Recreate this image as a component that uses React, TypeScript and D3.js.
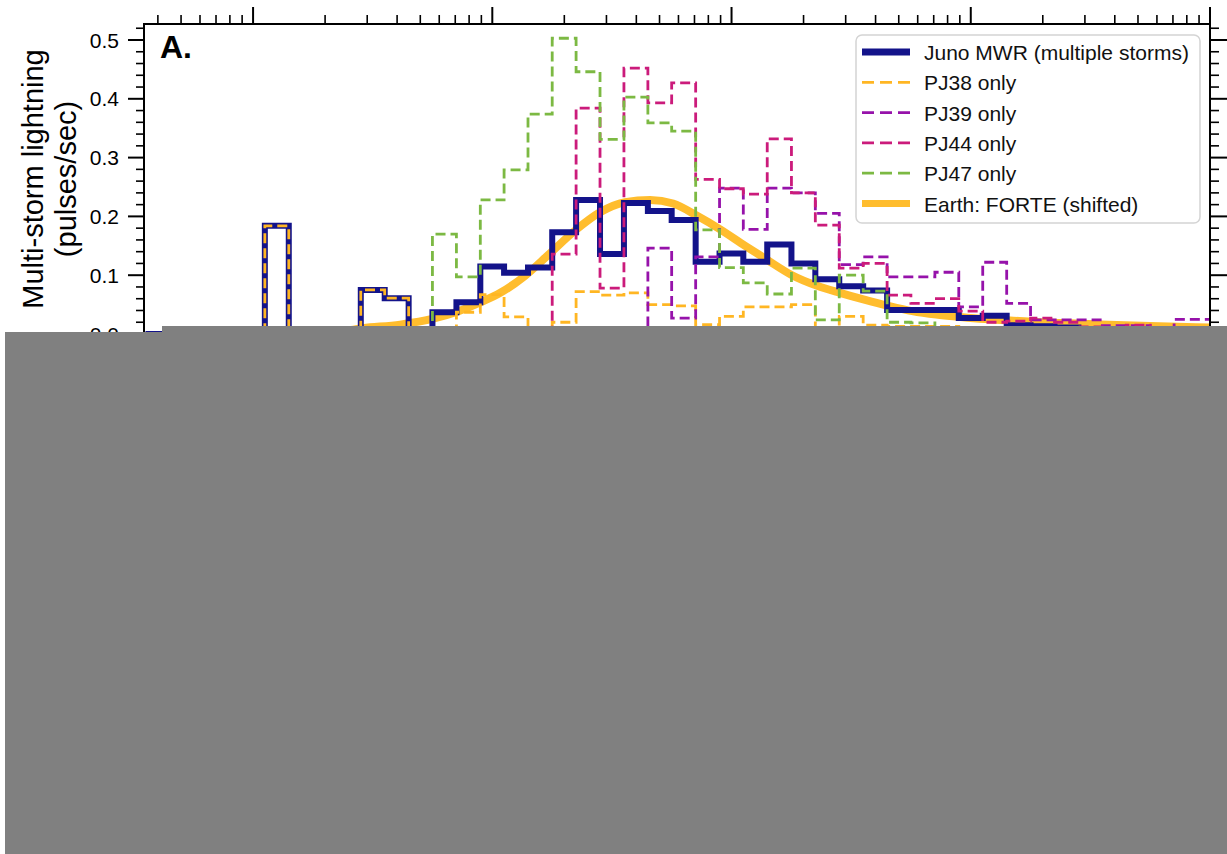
import * as d3 from "d3";

// histogram bin edges (log spaced, 10 per decade)
const binEdges = [
  0.355, 0.447, 0.562, 0.708, 0.891, 1.12, 1.41, 1.78, 2.24, 2.82, 3.55, 4.47, 5.62, 7.08, 8.91,
  11.2, 14.1, 17.8, 22.4, 28.2, 35.5, 44.7, 56.2, 70.8, 89.1, 112, 141, 178, 224, 282, 355, 447,
  562, 708, 891, 1122, 1413, 1778, 2239, 2818, 3548, 4467, 5623, 7079, 8913, 11220,
];

const junoMWR = [
  0, 0, 0, 0, 0, 0.184, 0, 0, 0, 0.075, 0.061, 0, 0.037, 0.054, 0.115, 0.104, 0.113, 0.173, 0.228,
  0.136, 0.223, 0.209, 0.194, 0.123, 0.137, 0.123, 0.152, 0.12, 0.093, 0.081, 0.074, 0.041, 0.041,
  0.041, 0.027, 0.031, 0.015, 0.013, 0.011, 0.008, 0.006, 0.005, 0.004, 0.004, 0.004,
];
const pj38 = [
  0, 0, 0, 0, 0, 0.184, 0, 0, 0, 0.075, 0.061, 0, 0, 0.037, 0.067, 0.029, 0, 0.02, 0.072, 0.066,
  0.07, 0.05, 0.048, 0.016, 0.03, 0.046, 0.046, 0.05, 0, 0.03, 0.015, 0.013, 0.013, 0.013, 0.01,
  0.01, 0.008, 0, 0, 0, 0, 0, 0, 0, 0,
];
const pj39 = [
  0, 0, 0, 0, 0, 0, 0, 0, 0, 0, 0, 0, 0, 0, 0, 0, 0, 0, 0, 0, 0, 0.146, 0.027, 0.131, 0.248, 0.178,
  0.248, 0.24, 0.205, 0.118, 0.131, 0.097, 0.097, 0.105, 0.046, 0.122, 0.052, 0.024, 0.024, 0.024,
  0.014, 0.014, 0.006, 0.025, 0.025,
];
const pj44 = [
  0, 0, 0, 0, 0, 0, 0, 0, 0, 0, 0, 0, 0, 0, 0, 0, 0, 0.136, 0.384, 0.078, 0.452, 0.393, 0.427,
  0.263, 0.247, 0.238, 0.332, 0.24, 0.185, 0.112, 0.12, 0.066, 0.052, 0.06, 0.039, 0.02, 0.022,
  0.027, 0.02, 0.012, 0.01, 0.015, 0.01, 0.004, 0,
];
const pj47 = [
  0, 0, 0, 0, 0, 0, 0, 0, 0, 0, 0, 0, 0.17, 0.097, 0.228, 0.279, 0.374, 0.503, 0.446, 0.331, 0.403,
  0.359, 0.345, 0.177, 0.113, 0.087, 0.068, 0.112, 0.024, 0.1, 0.073, 0.02, 0.019, 0, 0, 0, 0, 0,
  0, 0, 0, 0, 0, 0, 0,
];

// Earth FORTE distribution (shifted)
const forteX = [
  1.57, 2.1, 2.88, 4.12, 5.66, 7.13, 9.07, 10.8, 13.7, 17.4, 22.2, 28.2, 35.9, 45.7, 57.0, 71.8,
  89.6, 114, 141, 179, 228, 284, 362, 452, 569, 717, 903, 1149, 1461, 1859, 2364, 3475, 5623, 10000,
];
const forteY = [
  0.0, 0.002, 0.01, 0.016, 0.026, 0.038, 0.055, 0.07, 0.099, 0.137, 0.176, 0.207, 0.224, 0.228,
  0.222, 0.201, 0.178, 0.15, 0.126, 0.1, 0.082, 0.07, 0.058, 0.048, 0.039, 0.033, 0.029, 0.0255,
  0.023, 0.0204, 0.0187, 0.0162, 0.0136, 0.011,
];

const yTicks = [0, 0.1, 0.2, 0.3, 0.4, 0.5];
const yTickLabels = ["0.0", "0.1", "0.2", "0.3", "0.4", "0.5"];

const NAVY = "#13138a";
const series = [
  { name: "PJ38 only", values: pj38, color: "#ffb623" },
  { name: "PJ39 only", values: pj39, color: "#9612aa" },
  { name: "PJ44 only", values: pj44, color: "#cb1b7b" },
  { name: "PJ47 only", values: pj47, color: "#7cb943" },
];
const FORTE = "#ffbd2e";

const W = 1227;
const H = 854;
const left = 144, right = 1210, top = 24, bottom = 334;
const font = "'Liberation Sans', Arial, Helvetica, sans-serif";

export default function App() {
  const x = d3.scaleLog().domain([0.35, 10000]).range([left, right]);
  const y = d3.scaleLinear().domain([0, (bottom - top) / 588]).range([bottom, top]);

  const step = (vals: number[]) => {
    const pts: [number, number][] = [[binEdges[0], 0]];
    vals.forEach((v, i) => pts.push([binEdges[i], v]));
    pts.push([binEdges[vals.length], 0]);
    return d3
      .line<[number, number]>()
      .x((d) => x(d[0]))
      .y((d) => y(d[1]))
      .curve(d3.curveStepAfter)(pts) as string;
  };

  const forteLine = d3
    .line<number>()
    .x((d) => x(d))
    .y((_, i) => y(forteY[i]))
    .curve(d3.curveMonotoneX)(forteX) as string;

  const xTicks = x.ticks();
  const yMinor = d3.range(0.02, 0.53, 0.02).filter((v) => Math.abs(v * 10 - Math.round(v * 10)) > 1e-6);

  const legendRows = [
    { label: "Juno MWR (multiple storms)", color: NAVY, w: 7, dash: "" },
    ...series.map((s) => ({ label: s.name, color: s.color, w: 2.8, dash: "12,6" })),
    { label: "Earth: FORTE (shifted)", color: FORTE, w: 7, dash: "" },
  ];

  return (
    <svg
      width={W}
      height={H}
      style={{ position: "absolute", left: 0, top: 0, background: "#fff" }}
      fontFamily={font}
    >
      <defs>
        <clipPath id="plot">
          <rect x={left} y={top} width={right - left} height={bottom - top + 4} />
        </clipPath>
      </defs>

      {/* top axis ticks */}
      {xTicks.map((t, i) => {
        const major = Math.abs(Math.log10(t) - Math.round(Math.log10(t))) < 1e-6;
        return (
          <line key={"xt" + i} x1={x(t)} x2={x(t)} y1={top} y2={major ? top - 17 : top - 9}
            stroke="#000" strokeWidth={major ? 2 : 1.6} />
        );
      })}

      {/* y ticks on both sides */}
      {yTicks.map((t, i) => (
        <g key={"yt" + i}>
          <line x1={left - 16} x2={left} y1={y(t)} y2={y(t)} stroke="#000" strokeWidth={2} />
          <line x1={right} x2={right + 17} y1={y(t)} y2={y(t)} stroke="#000" strokeWidth={2} />
          <text x={119} y={y(t) + 7.5} textAnchor="end" fontSize={21} fill="#000">
            {yTickLabels[i]}
          </text>
        </g>
      ))}
      {yMinor.map((t, i) => (
        <g key={"ym" + i}>
          <line x1={left - 8} x2={left} y1={y(t)} y2={y(t)} stroke="#000" strokeWidth={1.6} />
          <line x1={right} x2={right + 9} y1={y(t)} y2={y(t)} stroke="#000" strokeWidth={1.6} />
        </g>
      ))}

      {/* y label */}
      <g transform={`translate(43, ${(top + bottom) / 2}) rotate(-90)`}>
        <text textAnchor="middle" fontSize={29} fill="#000">Multi-storm lightning</text>
        <text y={33} textAnchor="middle" fontSize={29} fill="#000">(pulses/sec)</text>
      </g>

      {/* data */}
      <g clipPath="url(#plot)" fill="none" strokeLinejoin="miter">
        <path d={forteLine} stroke={FORTE} strokeWidth={8} strokeLinecap="butt" />
        <path d={step(junoMWR)} stroke={NAVY} strokeWidth={6} />
        {series.map((s) => (
          <path key={s.name} d={step(s.values)} stroke={s.color} strokeWidth={2.8} strokeDasharray="10,5" />
        ))}
      </g>

      {/* frame */}
      <rect x={left} y={top} width={right - left} height={bottom - top} fill="none" stroke="#000" strokeWidth={2} />

      <text x={160} y={58} fontSize={32} fontWeight="bold" fill="#000">A.</text>

      {/* legend */}
      <g transform="translate(856, 35)">
        <rect width={344} height={188} rx={6} fill="#fff" fillOpacity={0.85} stroke="#d4d4d4" strokeWidth={1.5} />
        {legendRows.map((r, i) => {
          const cy = 17 + i * 30.3;
          return (
            <g key={r.label}>
              <line x1={6} x2={54} y1={cy} y2={cy} stroke={r.color} strokeWidth={r.w} strokeDasharray={r.dash} />
              <text x={68} y={cy + 8} fontSize={21} fill="#111">{r.label}</text>
            </g>
          );
        })}
      </g>

      {/* gray cover */}
      <rect x={5} y={332} width={160} height={H - 332} fill="#808080" />
      <rect x={162} y={326} width={W - 162} height={H - 326} fill="#808080" />
    </svg>
  );
}
